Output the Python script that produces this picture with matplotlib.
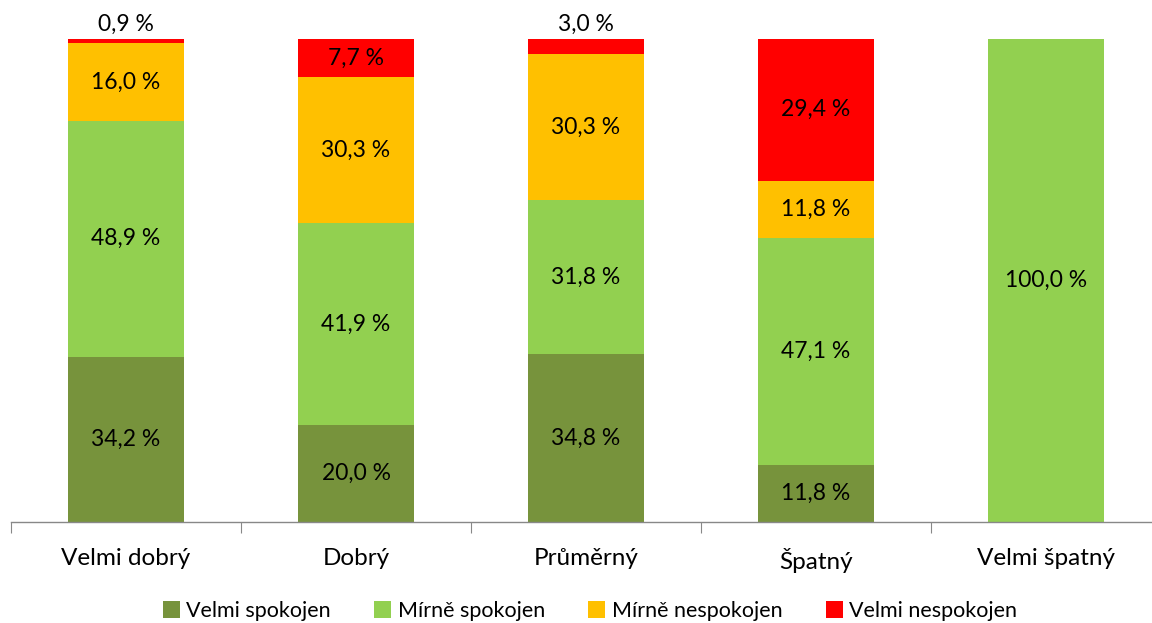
import matplotlib
matplotlib.use("Agg")
import matplotlib.pyplot as plt
import numpy as np

categories = ["Velmi dobrý", "Dobrý", "Průměrný", "Špatný", "Velmi špatný"]
series_names = ["Velmi spokojen", "Mírně spokojen", "Mírně nespokojen", "Velmi nespokojen"]
velmi_spokojen = [34.2, 20.0, 34.8, 11.8, 0.0]
mirne_spokojen = [48.9, 41.9, 31.8, 47.1, 100.0]
mirne_nespokojen = [16.0, 30.3, 30.3, 11.8, 0.0]
velmi_nespokojen = [0.9, 7.7, 3.0, 29.4, 0.0]
colors = ["#77933C", "#92D050", "#FFC000", "#FF0000"]

plt.rcParams['font.family'] = ['Lato', 'DejaVu Sans']

fig = plt.figure(figsize=(11.52, 6.23), dpi=100)
ax = fig.add_axes([11/1152, 101/623, 1150/1152, 483/623])

x = np.arange(len(categories))
data = [velmi_spokojen, mirne_spokojen, mirne_nespokojen, velmi_nespokojen]
bottom = np.zeros(len(categories))
for vals, col, name in zip(data, colors, series_names):
    vals = np.array(vals)
    ax.bar(x, vals, width=0.504, bottom=bottom, color=col, label=name, zorder=2)
    for i, v in enumerate(vals):
        if v <= 0:
            continue
        lab = f"{v:.1f}".replace(".", ",") + " %"
        if v < 5:
            ax.text(x[i], bottom[i] + v + 0.9, lab, ha='center', va='bottom', fontsize=16.5, color='black')
        else:
            ax.text(x[i], bottom[i] + v / 2, lab, ha='center', va='center', fontsize=16.5, color='black')
    bottom += vals

ax.set_xlim(-0.5, len(categories) - 0.5)
ax.set_ylim(0, 100)
ax.set_yticks([])
for s in ['top', 'right', 'left']:
    ax.spines[s].set_visible(False)
ax.spines['bottom'].set_color('#888888')
ax.spines['bottom'].set_linewidth(1.0)
ax.set_xticks(np.arange(len(categories) + 1) - 0.5, minor=False)
ax.set_xticklabels([])
ax.tick_params(axis='x', which='major', length=8, color='#888888', direction='out')
ax.set_xticks(x, minor=True)
ax.set_xticklabels(categories, minor=True, fontsize=17.5)
ax.tick_params(axis='x', which='minor', length=0, pad=19)

handles, labels = ax.get_legend_handles_labels()
fig.legend(handles, labels, loc='center', bbox_to_anchor=(590/1152, 1 - 611/623), ncol=4,
           frameon=False, fontsize=15.5, handlelength=0.8, handleheight=0.8,
           handletextpad=0.3, columnspacing=2.0)

fig.savefig("out.png", dpi=100)
